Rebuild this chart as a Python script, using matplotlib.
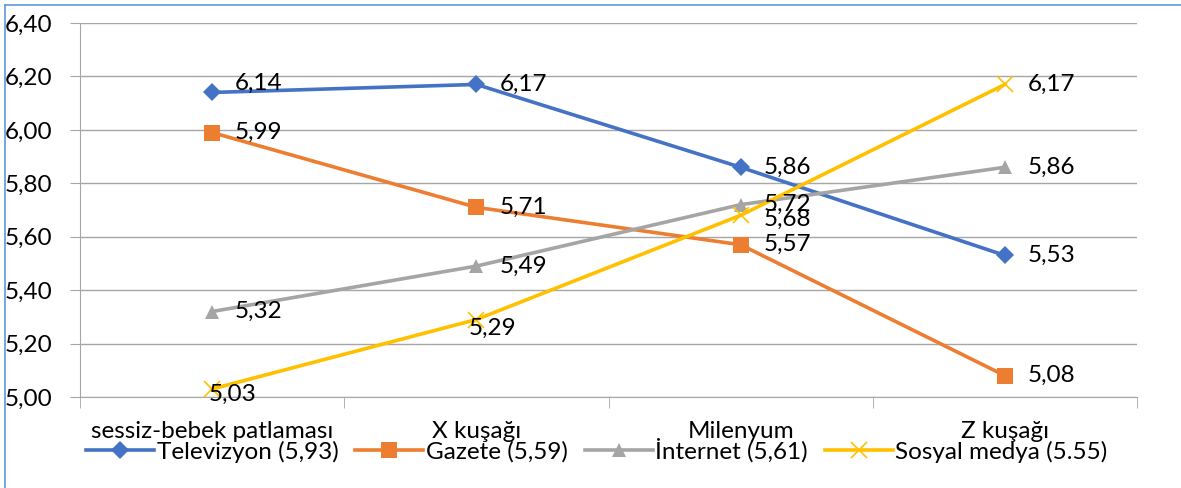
import matplotlib.pyplot as plt
from matplotlib.lines import Line2D

plt.rcParams['font.family'] = ['Lato', 'DejaVu Sans']

categories = ['sessiz-bebek patlaması', 'X kuşağı', 'Milenyum', 'Z kuşağı']
televizyon = [6.14, 6.17, 5.86, 5.53]
gazete = [5.99, 5.71, 5.57, 5.08]
internet = [5.32, 5.49, 5.72, 5.86]
sosyal_medya = [5.03, 5.29, 5.68, 6.17]
series_names = ['Televizyon (5,93)', 'Gazete (5,59)', 'İnternet (5,61)', 'Sosyal medya (5.55)']

colors = ['#4472C4', '#ED7D31', '#A5A5A5', '#FFC000']
markers = ['D', 's', '^', 'x']
msizes = [9, 11, 10, 11]
FS = 17.5


def fmt(v):
    return f'{v:.2f}'.replace('.', ',')


fig = plt.figure(figsize=(11.81, 4.88), dpi=100)
W, H = 1181, 488
ax = fig.add_axes([80 / W, (H - 397) / H, (1137 - 80) / W, (397 - 23) / H])

x = list(range(len(categories)))
all_series = [televizyon, gazete, internet, sosyal_medya]
for vals, name, c, m, ms in zip(all_series, series_names, colors, markers, msizes):
    ax.plot(x, vals, color=c, lw=2.6, marker=m, markersize=ms,
            markeredgewidth=1.2 if m == 'x' else 0, label=name, zorder=3)

# data labels, mostly to the right of each point
for si, vals in enumerate(all_series):
    for i, v in enumerate(vals):
        dx, dy = 23, 0
        if si == 0 and i == 0:
            dy = 9
        if si == 3 and i == 0:
            dx, dy = -3, -5
        if si == 3 and i == 1:
            dx, dy = -8, -9
        if si == 3 and i == 2:
            dy = -4
        ax.annotate(fmt(v), (i, v), xytext=(dx, dy), textcoords='offset pixels',
                    ha='left', va='center', fontsize=FS, color='black', zorder=4)

ax.set_xlim(-0.5, 3.5)
ax.set_ylim(5.0, 6.4)
ax.set_yticks([5.0 + 0.2 * k for k in range(8)])
ax.set_yticklabels([fmt(5.0 + 0.2 * k) for k in range(8)], fontsize=FS)
ax.yaxis.grid(True, color='#A6A6A6', lw=1.0)
ax.tick_params(axis='y', length=7, color='#A6A6A6', pad=13)

ax.set_xticks(x)
ax.set_xticklabels(categories, fontsize=FS)
ax.tick_params(axis='x', which='major', length=0, pad=17)
ax.set_xticks([-0.5, 0.5, 1.5, 2.5, 3.5], minor=True)
ax.tick_params(axis='x', which='minor', length=8, color='#A6A6A6')

for s in ['top', 'right']:
    ax.spines[s].set_visible(False)
for s in ['left', 'bottom']:
    ax.spines[s].set_color('#A6A6A6')
ax.set_axisbelow(True)

ax.legend(loc='center', bbox_to_anchor=(0.489, -0.143), ncol=4, frameon=False,
          fontsize=FS, handlelength=2.8, handletextpad=0.1, columnspacing=0.7,
          borderaxespad=0)

# outer chart border (left and top edges)
fig.add_artist(Line2D([4.5 / W, 4.5 / W], [0, 1 - 5 / H], color='#5B9BD5', lw=1.2,
                      transform=fig.transFigure))
fig.add_artist(Line2D([4.5 / W, 1], [1 - 5 / H, 1 - 5 / H], color='#5B9BD5', lw=1.2,
                      transform=fig.transFigure))

fig.savefig('out.png', dpi=100)
